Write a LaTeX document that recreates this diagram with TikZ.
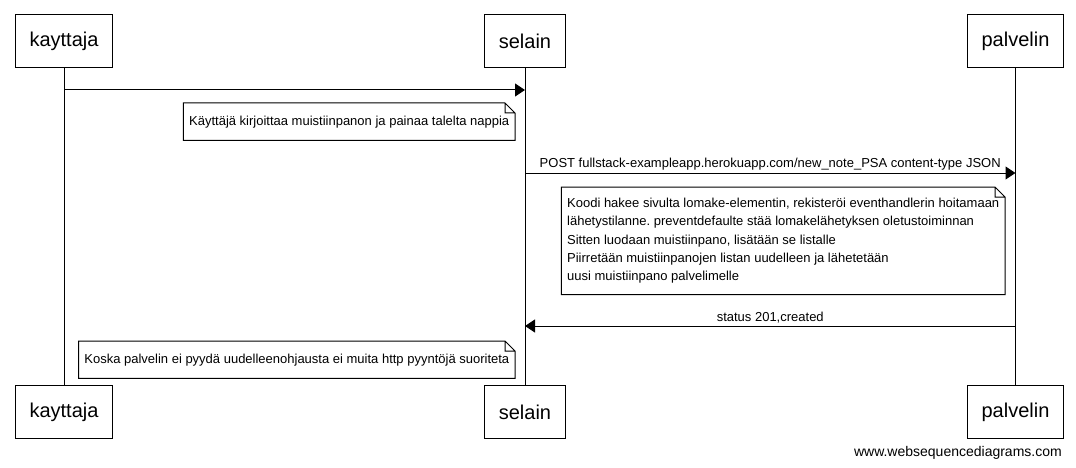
\documentclass[tikz,border=0pt]{standalone}
\usepackage{fontspec}
\setmainfont{Liberation Sans}
\usepackage{tikz}
\usetikzlibrary{calc,arrows.meta}
\frenchspacing
\definecolor{ink}{HTML}{000000}
\definecolor{paper}{HTML}{FFFFFF}
\tikzset{
  actor/.style={draw=ink, line width=1pt, fill=paper, minimum height=53pt, inner xsep=14pt, text=ink, font=\fontsize{20}{24}\selectfont},
  life/.style={draw=ink, line width=1pt},
  msg/.style={draw=ink, line width=1pt, -{Triangle[length=10pt,width=13pt]}},
  note/.style={inner xsep=5.5pt, inner ysep=11pt, minimum height=37pt, align=left, text=ink, font=\fontsize{13}{18.3}\selectfont},
  notebox/.style={draw=ink, line width=1pt, line join=miter},
  lab/.style={text=ink, inner sep=2pt, font=\fontsize{13}{16}\selectfont},
}

\begin{document}
\begin{tikzpicture}[x=1pt,y=-1pt]
  \useasboundingbox[fill=paper] (0,0) rectangle (1076,468);
  \def\fold{10pt}
  % participants, top and bottom
  \node[actor] (kt) at (64,41.5) {kayttaja};
  \node[actor] (st) at (525,41.5) {selain};
  \node[actor] (pt) at (1015.5,41.5) {palvelin};
  \node[actor] (kb) at (64,412) {kayttaja};
  \node[actor] (sb) at (525,412) {selain};
  \node[actor] (pb) at (1015.5,412) {palvelin};
  \draw[life] (kt) -- (kb);
  \draw[life] (st) -- (sb);
  \draw[life] (pt) -- (pb);
  % messages
  \coordinate (k1) at (64,90);    \coordinate (s1) at (525,90);
  \coordinate (s2) at (525,173);  \coordinate (p2) at (1015.5,173);
  \coordinate (p3) at (1015.5,326); \coordinate (s3) at (525,326);
  \draw[msg] (k1) -- (s1);
  \draw[msg] (s2) -- node[lab, above] {POST fullstack-exampleapp.herokuapp.com/new\_note\_PSA content-type JSON} (p2);
  \draw[msg] (p3) -- node[lab, above] {status 201,created} (s3);
  % notes
  \node[note, anchor=north east] (n1) at (515,103) {Käyttäjä kirjoittaa muistiinpanon ja painaa talelta nappia};
  \node[note, anchor=north east] (n2) at (1005,187) {Koodi hakee sivulta lomake-elementin, rekisteröi eventhandlerin hoitamaan\\
    lähetystilanne. preventdefaulte stää lomakelähetyksen oletustoiminnan\\
    Sitten luodaan muistiinpano, lisätään se listalle\\
    Piirretään muistiinpanojen listan uudelleen ja lähetetään\\
    uusi muistiinpano palvelimelle};
  \node[note, anchor=north east] (n3) at (515,341) {Koska palvelin ei pyydä uudelleenohjausta ei muita http pyyntöjä suoriteta};
  \foreach \n in {n1,n2,n3}
    \draw[notebox] (\n.north west) -- ([xshift=-\fold]\n.north east) -- ([yshift=-\fold]\n.north east)
      -- (\n.south east) -- (\n.south west) -- cycle
      ([xshift=-\fold]\n.north east) |- ([yshift=-\fold]\n.north east);
  \node[lab, anchor=east, font=\fontsize{14}{16}\selectfont] (wm) at (1064,452.5) {www.websequencediagrams.com};
\end{tikzpicture}
\end{document}
